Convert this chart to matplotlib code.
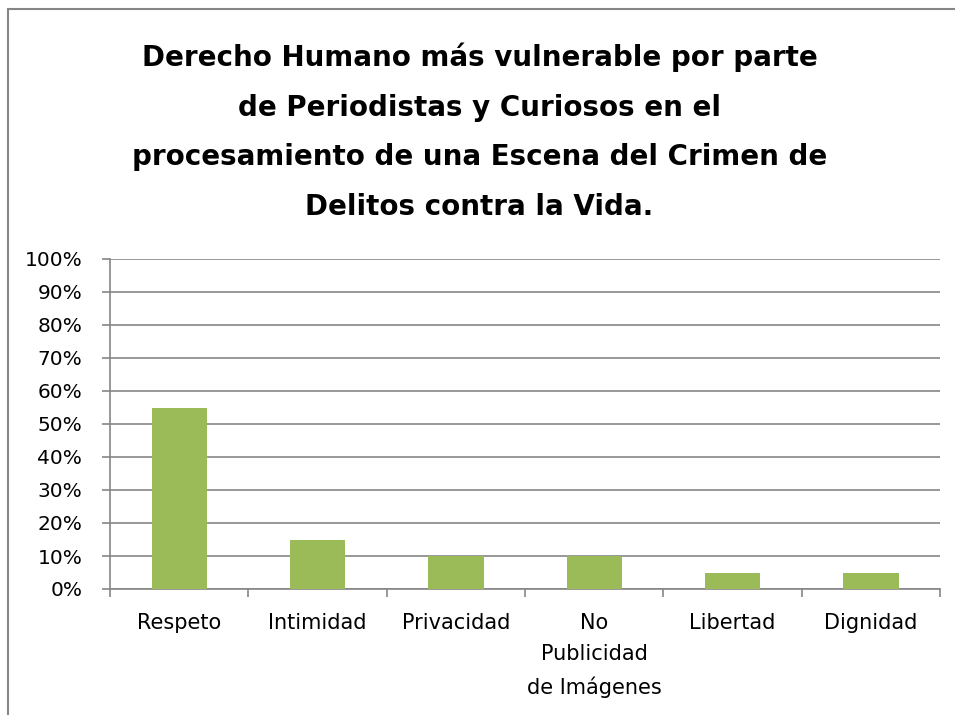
import matplotlib.pyplot as plt
import matplotlib.patches as mpatches
from matplotlib.ticker import PercentFormatter, MultipleLocator

# datos del gráfico
categorias = ['Respeto', 'Intimidad', 'Privacidad', 'No\nPublicidad\nde Imágenes', 'Libertad', 'Dignidad']
porcentajes = [55, 15, 10, 10, 5, 5]
titulo = ('Derecho Humano más vulnerable por parte\n'
          'de Periodistas y Curiosos en el\n'
          'procesamiento de una Escena del Crimen de\n'
          'Delitos contra la Vida.')

plt.rcParams['font.family'] = ['DejaVu Sans']
gris = '#868686'

fig = plt.figure(figsize=(9.55, 7.15), dpi=100)
ax = fig.add_axes([110/955, 1 - 589/715, 830/955, 330/715])

# marco del gráfico (recortado a derecha y abajo)
fig.patches.append(mpatches.Rectangle((8/955, -0.05), 1.2, 1 - 9/715 + 0.05,
                                      transform=fig.transFigure, fill=False,
                                      edgecolor=gris, linewidth=1.5))

x = list(range(len(categorias)))
ax.bar(x, porcentajes, width=0.4, color='#9BBB59', zorder=3)

ax.set_xlim(-0.5, len(categorias) - 0.5)
ax.set_ylim(0, 100)
ax.yaxis.set_major_locator(MultipleLocator(10))
ax.yaxis.set_major_formatter(PercentFormatter(decimals=0))
ax.grid(axis='y', color=gris, linewidth=1.2, zorder=0)

ax.set_xticks([i - 0.5 for i in range(len(categorias) + 1)])
ax.set_xticklabels([])
ax.set_xticks(x, minor=True)
ax.set_xticklabels(categorias, minor=True, fontsize=15, linespacing=1.7, va='top')
ax.tick_params(axis='x', which='minor', length=0, pad=17)
ax.tick_params(axis='x', which='major', length=6, width=1.2, color=gris)
ax.tick_params(axis='y', length=6, width=1.2, color=gris, labelsize=14.5, pad=14)

for lado in ['top', 'right']:
    ax.spines[lado].set_visible(False)
for lado in ['left', 'bottom']:
    ax.spines[lado].set_color(gris)
    ax.spines[lado].set_linewidth(1.2)

fig.text(0.5 + 2/955, 1 - 215/715, titulo, ha='center', va='baseline',
         fontsize=20, fontweight='bold', linespacing=1.98)

fig.savefig('out.png', dpi=100)
